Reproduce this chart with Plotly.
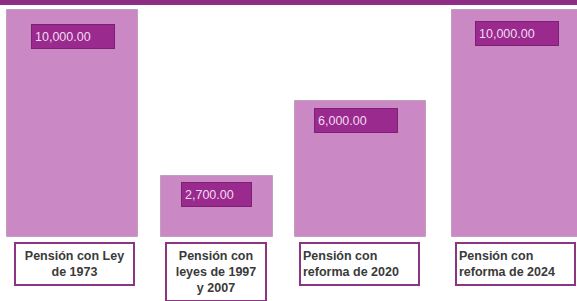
import plotly.graph_objects as go

categories = ["Pensión con Ley de 1973", "Pensión con leyes de 1997 y 2007",
              "Pensión con reforma de 2020", "Pensión con reforma de 2024"]
pension_values = [10000, 2700, 6000, 10000]
value_labels = ["10,000.00", "2,700.00", "6,000.00", "10,000.00"]
category_labels = ["Pensión con Ley<br>de 1973", "Pensión con<br>leyes de 1997<br>y 2007",
                   "Pensión con<br>reforma de 2020", "Pensión con<br>reforma de 2024"]

# style arrays (pixels / axis units)
bar_widths = [0.908, 0.776, 0.908, 0.95]
bar_offsets = [-0.451, -0.384, -0.454, -0.367]
val_xshift = [1, 0, -5, 12]
val_yshift = [-14, -6, -7, -11]
val_w = [76, 63, 76, 76]
cat_xshift = [2, 0, -1, 11]
cat_w = [113, 94, 113, 113]
cat_h = [36, 52, 36, 36]
cat_align = ["center", "center", "left", "left"]

fig = go.Figure()
fig.add_trace(go.Bar(
    x=categories, y=pension_values,
    width=bar_widths, offset=bar_offsets,
    marker=dict(color="#ca89c4", line=dict(color="#bf9fbc", width=1)),
    hoverinfo="skip",
))

annotations = []
for i, c in enumerate(categories):
    annotations.append(dict(
        x=c, y=pension_values[i], xref="x", yref="y",
        text=value_labels[i], showarrow=False,
        xanchor="center", yanchor="top", xshift=val_xshift[i], yshift=val_yshift[i],
        width=val_w[i], height=17, align="left",
        bgcolor="#9a2a8e", bordercolor="#7d1f73", borderwidth=1, borderpad=3,
        font=dict(family="Liberation Sans, Arial", size=12.5, color="#f2dcf0"),
    ))
    annotations.append(dict(
        x=c, y=0, xref="x", yref="y",
        text=category_labels[i], showarrow=False,
        xanchor="center", yanchor="top", xshift=cat_xshift[i], yshift=-5,
        width=cat_w[i], height=cat_h[i], align=cat_align[i],
        bgcolor="#ffffff", bordercolor="#8c3585", borderwidth=2, borderpad=2,
        font=dict(family="Liberation Sans, Arial", size=12.5, color="#3a3a3a", weight="bold"),
    ))

fig.update_layout(
    width=577, height=301,
    margin=dict(l=0, r=0, t=0, b=0),
    paper_bgcolor="#ffffff", plot_bgcolor="#ffffff",
    showlegend=False,
    bargap=0,
    xaxis=dict(type="category", range=[-0.5, 3.5], visible=False, fixedrange=True),
    yaxis=dict(range=[-2819, 10441], visible=False, fixedrange=True),
    annotations=annotations,
    shapes=[dict(type="rect", xref="paper", yref="paper", x0=0, x1=1, y0=0.983, y1=1.0,
                 fillcolor="#8e2d84", line=dict(width=0), layer="above")],
)

fig.write_html("out.html", config={"displayModeBar": False},
               post_script="document.body.style.margin='0px';document.body.style.overflow='hidden';")
